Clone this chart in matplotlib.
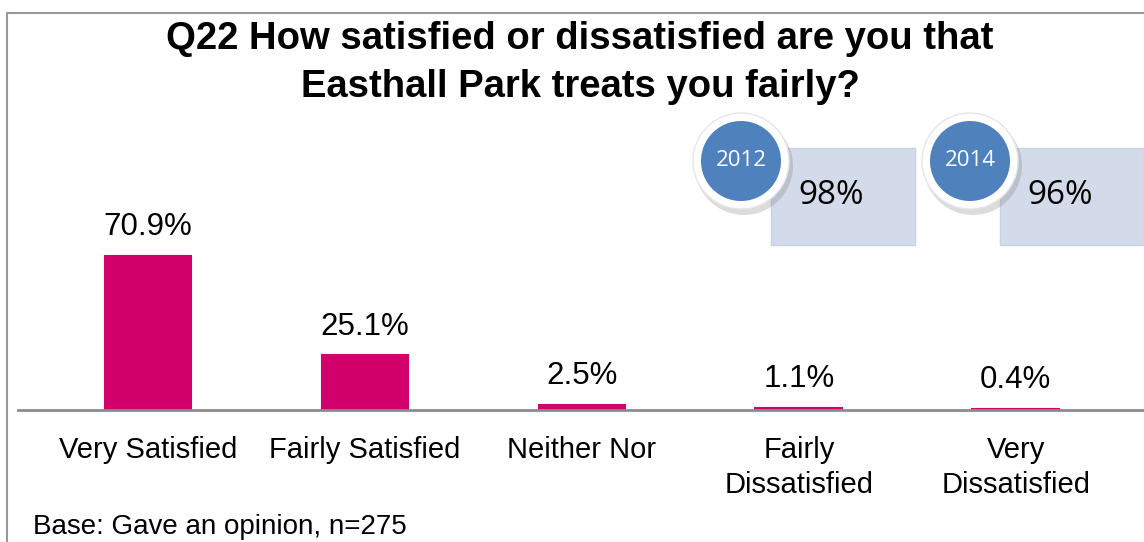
import matplotlib
matplotlib.use("Agg")
import matplotlib.pyplot as plt
from matplotlib.patches import Circle, Rectangle

plt.rcParams['font.family'] = ['Liberation Sans', 'DejaVu Sans']

# --- Data ---
categories = ["Very Satisfied", "Fairly Satisfied", "Neither Nor",
              "Fairly\nDissatisfied", "Very\nDissatisfied"]
values = [70.9, 25.1, 2.5, 1.1, 0.4]
years = ["2012", "2014"]
year_totals = ["98%", "96%"]

title = "Q22 How satisfied or dissatisfied are you that\nEasthall Park treats you fairly?"
base_note = "Base: Gave an opinion, n=275"

bar_color = "#D1006B"
W, H = 1144, 542

fig = plt.figure(figsize=(W / 100, H / 100), dpi=100)
fig.patch.set_facecolor("white")

# --- Overlay in pixel coordinates for frame, title, badges ---
ov = fig.add_axes([0, 0, 1, 1])
ov.set_xlim(0, W)
ov.set_ylim(H, 0)
ov.axis("off")

ov.plot([7, 7, W + 5], [H + 5, 13, 13], color="#9a9a9a", lw=1.5)

ov.text(580, 63, title, ha="center", va="center", fontsize=27.5,
        fontweight="bold", linespacing=1.4)

ov.text(33, 527, base_note, ha="left", va="center", fontsize=20)

# year badges
badge_x = [741, 970]
for bx, yr, tot in zip(badge_x, years, year_totals):
    ov.add_patch(Rectangle((bx + 30, 148), 144, 97, facecolor="#D3DAE9",
                           edgecolor="#C9D1E3", lw=1))
    ov.text(bx + 90, 195, tot, ha="center", va="center", fontsize=24,
            family=["Open Sans", "DejaVu Sans"])
    ov.add_patch(Circle((bx + 3, 166), 49, facecolor="#777777", alpha=0.25,
                        edgecolor="none"))
    ov.add_patch(Circle((bx, 161), 48, facecolor="white", edgecolor="#e6e6e6", lw=1))
    ov.add_patch(Circle((bx, 161), 40, facecolor="#4F81BD", edgecolor="none"))
    ov.text(bx, 161, yr, ha="center", va="center", fontsize=16, color="white",
            family=["Open Sans", "DejaVu Sans"])

# --- Bar chart ---
ax = fig.add_axes([17.8 / W, (H - 410) / H, (1146 - 17.8) / W, 310 / H])
ax.set_zorder(2)
ax.patch.set_alpha(0)
x = range(len(categories))
bars = ax.bar(x, values, width=0.4, color=bar_color, edgecolor=bar_color, lw=1.5)
ax.set_xlim(-0.6, 4.6)
ax.set_ylim(0, 310 / 2.172)

for b, v in zip(bars, values):
    ax.annotate(f"{v:.1f}%", (b.get_x() + b.get_width() / 2, v),
                xytext=(0, 10), textcoords="offset points",
                ha="center", va="bottom", fontsize=22.5)

ax.set_xticks(list(x))
ax.set_xticklabels(categories, fontsize=21, linespacing=1.3)
ax.tick_params(axis="x", length=0, pad=19)
ax.set_yticks([])
for s in ["top", "right", "left"]:
    ax.spines[s].set_visible(False)
ax.spines["bottom"].set_color("#8c8c8c")
ax.spines["bottom"].set_linewidth(2)

fig.savefig("out.png", dpi=100)
